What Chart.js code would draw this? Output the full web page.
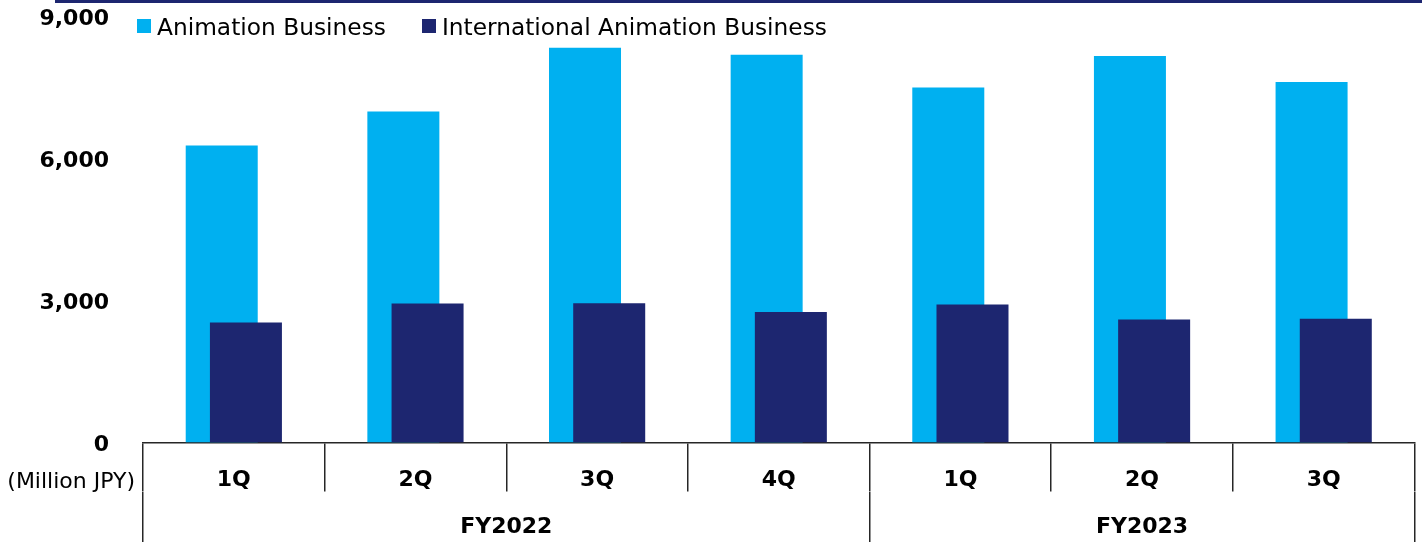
<!DOCTYPE html>
<html>
<head>
<meta charset="utf-8">
<script src="https://cdn.jsdelivr.net/npm/chart.js@4.4.1/dist/chart.umd.min.js"></script>
<style>
  html, body { margin: 0; padding: 0; background: #ffffff; }
  #wrap { position: relative; width: 1422px; height: 542px; overflow: hidden; }
  #topRule { position: absolute; left: 55px; top: 0; width: 1367px; height: 3px; background: #1D2670; }
  #legend { position: absolute; left: 137px; top: 12px; height: 28px; display: flex; align-items: center;
            font: 23.3px 'DejaVu Sans', sans-serif; color: #000; z-index: 2; white-space: nowrap; }
  #legend .item { display: flex; align-items: center; margin-right: 36px; }
  #legend .box { width: 14px; height: 14px; margin-right: 6px; }
  canvas { position: absolute; left: 0; top: 0; }
</style>
</head>
<body>
<div id="wrap">
  <div id="topRule"></div>
  <div id="legend"></div>
  <canvas id="chart" width="1422" height="542"></canvas>
</div>
<script>
// Quarterly sales, million JPY
const quarters = ['1Q', '2Q', '3Q', '4Q', '1Q', '2Q', '3Q'];
const fiscalYears = ['FY2022', 'FY2023'];
const quartersPerYear = [4, 3];
const animationBusiness = [6280, 7000, 8350, 8200, 7510, 8175, 7625];
const internationalAnimation = [2540, 2940, 2945, 2760, 2920, 2600, 2620];
const yTicks = [0, 3000, 6000, 9000];
const unitLabel = '(Million JPY)';

const LIGHT = '#00B0F0';
const NAVY = '#1D2670';
const LINE = '#262626';

// Fiscal-year band on a half-quarter grid: slot 0 is the left edge of the
// first quarter, slot 2*n the right edge of the last one.
const bandLabels = new Array(quarters.length * 2 + 1).fill('');
const bandEdges = [0];
quartersPerYear.forEach((n, i) => {
  const start = bandEdges[i];
  bandEdges.push(start + 2 * n);
  bandLabels[start + n] = fiscalYears[i];
});

Chart.defaults.font.family = "'DejaVu Sans', sans-serif";
Chart.defaults.color = '#000';

const unitLabelPlugin = {
  id: 'unitLabel',
  afterDraw(chart) {
    const { ctx, chartArea } = chart;
    const xs = chart.scales.x;
    ctx.save();
    ctx.font = "22px 'DejaVu Sans', sans-serif";
    ctx.fillStyle = '#000';
    ctx.textAlign = 'right';
    ctx.textBaseline = 'middle';
    ctx.fillText(unitLabel, chartArea.left - 8, xs.top + 39.5);
    ctx.restore();
  }
};

const chart = new Chart(document.getElementById('chart'), {
  type: 'bar',
  data: {
    labels: quarters,
    datasets: [
      { label: 'Animation Business', data: animationBusiness, backgroundColor: LIGHT, order: 1 },
      { label: 'International Animation Business', data: internationalAnimation, backgroundColor: NAVY, order: 0 }
    ]
  },
  options: {
    responsive: false,
    animation: false,
    layout: { padding: { top: 17, right: 7.5, bottom: 0, left: 0 } },
    datasets: {
      // overlapping pair: navy bar sits to the right, drawn over the light bar
      bar: { categoryPercentage: -0.2665, barPercentage: -2.975, borderWidth: 0 }
    },
    plugins: {
      legend: { display: false },
      tooltip: { enabled: false }
    },
    scales: {
      x: {
        type: 'category',
        offset: true,
        grid: { display: true, offset: true, drawOnChartArea: false, drawTicks: true,
                tickLength: 49, color: LINE, lineWidth: 1.5 },
        border: { display: true, color: LINE, width: 1.5 },
        ticks: { font: { size: 22, weight: 'bold' }, color: '#000', padding: -24.2,
                 maxRotation: 0, autoSkip: false },
        afterFit(s) { s.height = 49; }
      },
      fy: {
        type: 'category',
        position: 'bottom',
        labels: bandLabels,
        offset: false,
        ticks: {
          font: { size: 22, weight: 'bold' }, color: '#000', padding: -27.7,
          maxRotation: 0, autoSkip: false
        },
        grid: {
          offset: false, drawOnChartArea: false, drawTicks: true, tickLength: 50.5, lineWidth: 1.5,
          color(c) { return bandEdges.includes(c.index) ? LINE : 'rgba(0,0,0,0)'; }
        },
        border: { display: false },
        afterFit(s) { s.height = 50.5; }
      },
      y: {
        min: yTicks[0],
        max: yTicks[yTicks.length - 1],
        afterBuildTicks(s) { s.ticks = yTicks.map(v => ({ value: v })); },
        ticks: {
          callback: v => v.toLocaleString('en-US'),
          font: { size: 22, weight: 'bold' }, color: '#000', padding: 0, labelOffset: 2.5
        },
        grid: { display: false, drawTicks: true, tickLength: 34 },
        border: { display: false },
        afterFit(s) { s.width = 143; }
      }
    }
  },
  plugins: [unitLabelPlugin]
});

// Legend built from the chart's datasets
const legendEl = document.getElementById('legend');
chart.data.datasets.forEach(ds => {
  const item = document.createElement('div');
  item.className = 'item';
  const box = document.createElement('span');
  box.className = 'box';
  box.style.background = ds.backgroundColor;
  const text = document.createElement('span');
  text.textContent = ds.label;
  item.appendChild(box);
  item.appendChild(text);
  legendEl.appendChild(item);
});
</script>
</body>
</html>
